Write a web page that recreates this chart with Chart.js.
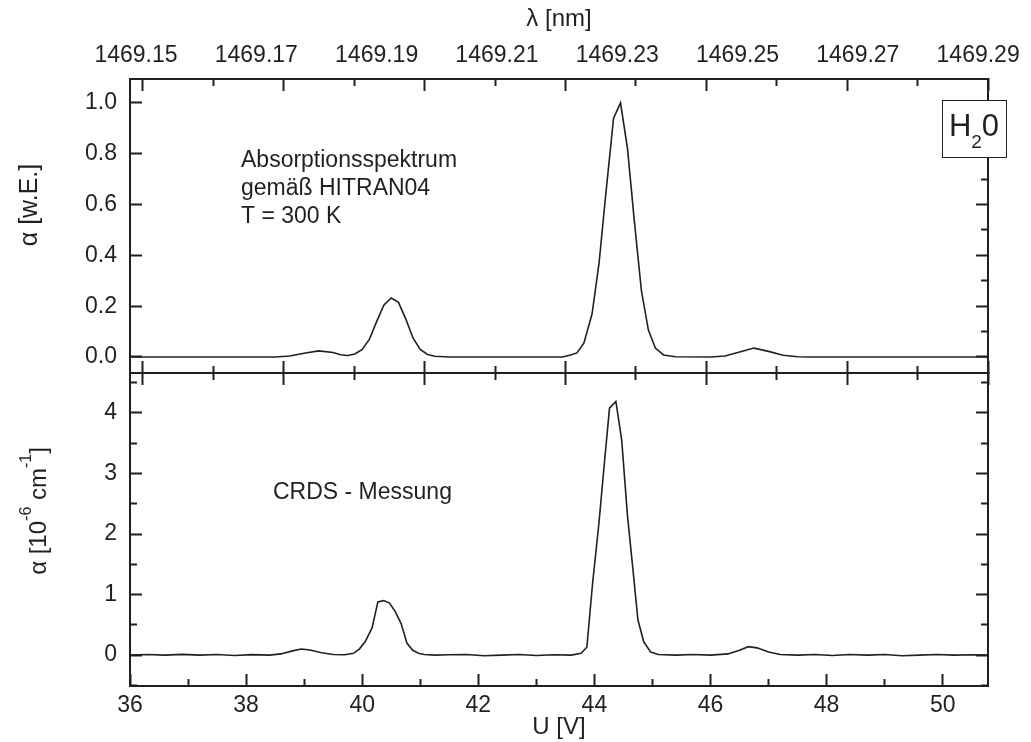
<!DOCTYPE html>
<html>
<head>
<meta charset="utf-8">
<script src="https://cdn.jsdelivr.net/npm/chart.js@4.4.1/dist/chart.umd.min.js"></script>
<style>
html, body { margin: 0; padding: 0; background: #fff; }
#wrap { position: relative; width: 1031px; height: 742px; }
canvas { position: absolute; left: 0; top: 0; }
</style>
</head>
<body>
<div id="wrap">
  <canvas id="bot" width="1031" height="742"></canvas>
  <canvas id="top" width="1031" height="742"></canvas>
</div>
<script>
// HITRAN spectrum (upper panel), x = U [V]
const hitranU = [36.0, 38.5, 38.75, 39.0, 39.25, 39.5, 39.625, 39.75, 39.875, 40.0, 40.125, 40.25, 40.375, 40.5, 40.625, 40.75, 40.875, 41.0, 41.125, 41.25, 41.5,
  43.45, 43.59, 43.70, 43.82, 43.96, 44.08, 44.20, 44.33, 44.45, 44.57, 44.69, 44.81, 44.93, 45.05, 45.19, 45.4,
  46.0, 46.25, 46.5, 46.75, 47.0, 47.25, 47.5, 47.75, 50.78];
const hitranA = [0, 0, 0.004, 0.015, 0.024, 0.018, 0.009, 0.006, 0.012, 0.03, 0.07, 0.14, 0.205, 0.232, 0.215, 0.15, 0.075, 0.03, 0.01, 0.003, 0,
  0, 0.008, 0.016, 0.055, 0.17, 0.37, 0.65, 0.94, 1.0, 0.82, 0.53, 0.26, 0.106, 0.035, 0.008, 0.001,
  0, 0.004, 0.02, 0.035, 0.022, 0.007, 0.001, 0, 0];

// CRDS measurement (lower panel), alpha in 1e-6 cm^-1
const crdsU = [36.0, 36.3, 36.6, 36.9, 37.2, 37.5, 37.8, 38.1, 38.4, 38.6, 38.8, 38.95, 39.1, 39.3, 39.5, 39.7,
  39.85, 39.95, 40.05, 40.17, 40.27, 40.37, 40.47, 40.57, 40.67, 40.77, 40.87, 40.97, 41.07, 41.25, 41.5, 41.8, 42.1, 42.4, 42.7, 43.0, 43.3, 43.6,
  43.77, 43.87, 43.97, 44.08, 44.16, 44.26, 44.37, 44.47, 44.57, 44.66, 44.75, 44.85, 44.97, 45.1, 45.4, 45.7, 46.0,
  46.3, 46.5, 46.65, 46.8, 47.0, 47.2, 47.5, 47.8, 48.1, 48.4, 48.7, 49.0, 49.3, 49.6, 49.9, 50.2, 50.5, 50.78];
const crdsA = [0.0, 0.01, 0.0, 0.012, 0.0, 0.01, -0.005, 0.008, 0.0, 0.02, 0.07, 0.1, 0.085, 0.04, 0.01, 0.005,
  0.03, 0.1, 0.22, 0.45, 0.88, 0.9, 0.86, 0.72, 0.52, 0.2, 0.08, 0.03, 0.01, 0.0, 0.005, 0.01, -0.01, 0.0, 0.01, -0.005, 0.005, 0.0,
  0.03, 0.13, 1.2, 2.2, 3.05, 4.08, 4.19, 3.55, 2.3, 1.45, 0.58, 0.22, 0.05, 0.01, 0.0, 0.01, 0.0,
  0.02, 0.08, 0.14, 0.12, 0.05, 0.01, 0.0, 0.01, -0.005, 0.01, 0.0, 0.01, -0.01, 0.0, 0.01, 0.0, 0.005, 0.0];

// upper wavelength axis labels
const lambdaLabels = ['1469.15', '1469.17', '1469.19', '1469.21', '1469.23', '1469.25', '1469.27', '1469.29'];

const U_MIN = 36, U_MAX = 50.78;
const TOP_MIN = -0.063, TOP_MAX = 1.094;
const BOT_MIN = -0.51, BOT_MAX = 4.66;

const FONT = "'Liberation Sans', Arial, Helvetica, sans-serif";
const INK = '#231f20';
Chart.defaults.font.family = FONT;
Chart.defaults.color = INK;

//inward pointing ticks, minor ones are cut short with a dash
function inGrid(pos, isMajor) {
    const fromBorder = pos === 'bottom' || pos === 'right';
    return {
        display: true,
        drawOnChartArea: false,
        drawTicks: true,
        tickLength: -12,
        tickWidth: 2,
        tickColor: INK,
        tickBorderDash: (c) => isMajor(c.tick.value) ? [] : [8, 5],
        tickBorderDashOffset: (c) => (isMajor(c.tick.value) || fromBorder) ? 0 : 8
    };
}
const border = { display: true, color: INK, width: 2 };
const evenInt = (v) => Math.abs(v / 2 - Math.round(v / 2)) < 1e-6;
const topMajor = (v) => Math.abs(v * 5 - Math.round(v * 5)) < 1e-6;
const intMajor = (v) => Math.abs(v - Math.round(v)) < 1e-6;

function lambdaTicks(pos) {
    return {
        type: 'linear', position: pos, min: -0.1844, max: 12,
        ticks: { display: false, stepSize: 1, includeBounds: false, maxTicksLimit: 100, autoSkip: false },
        grid: inGrid(pos, evenInt), border: border,
        afterFit: (s) => { s.height = 0; }
    };
}
function rightAxis(min, max, step, major) {
    return {
        type: 'linear', position: 'right', min: min, max: max,
        ticks: { display: false, stepSize: step, includeBounds: false, maxTicksLimit: 100 },
        grid: inGrid('right', major), border: border,
        afterFit: (s) => { s.width = 1031 - 988; }
    };
}

function drawRich(ctx, parts, x, y, rot) {
    ctx.save();
    ctx.translate(x, y);
    if (rot) ctx.rotate(rot);
    ctx.fillStyle = INK;
    ctx.textBaseline = 'alphabetic';
    ctx.textAlign = 'left';
    let total = 0;
    parts.forEach((p) => {
        ctx.font = p.size + 'px ' + FONT;
        p.w = ctx.measureText(p.text).width;
        total += p.w;
    });
    let cx = -total / 2;
    parts.forEach((p) => {
        ctx.font = p.size + 'px ' + FONT;
        ctx.fillText(p.text, cx, p.dy || 0);
        cx += p.w;
    });
    ctx.restore();
}

const notesTop = {
    id: 'notesTop',
    afterDraw(chart) {
        const ctx = chart.ctx;
        ctx.save();
        ctx.fillStyle = INK;
        ctx.font = '23px ' + FONT;
        ctx.textAlign = 'left';
        ctx.fillText('Absorptionsspektrum', 241, 167);
        ctx.fillText('gemäß HITRAN04', 241, 195);
        ctx.fillText('T = 300 K', 241, 223);
        // H2O box
        ctx.fillStyle = '#fff';
        ctx.fillRect(942, 100, 64, 57);
        ctx.strokeStyle = INK;
        ctx.lineWidth = 1;
        ctx.strokeRect(942.5, 100.5, 64, 57);
        ctx.restore();
        drawRich(ctx, [{ text: 'H', size: 31 }, { text: '2', size: 19, dy: 12 }, { text: '0', size: 31 }], 974, 136, 0);
        drawRich(ctx, [{ text: 'α [w.E.]', size: 25 }], 37, 205, -Math.PI / 2);
    }
};
const notesBot = {
    id: 'notesBot',
    afterDraw(chart) {
        const ctx = chart.ctx;
        ctx.save();
        ctx.fillStyle = INK;
        ctx.font = '23px ' + FONT;
        ctx.textAlign = 'left';
        ctx.fillText('CRDS - Messung', 273, 499);
        ctx.restore();
        drawRich(ctx, [
            { text: 'α [10', size: 24 },
            { text: '-6', size: 16, dy: -15 },
            { text: ' cm', size: 24 },
            { text: '-1', size: 16, dy: -15 },
            { text: ']', size: 24 }
        ], 46, 511, -Math.PI / 2);
    }
};

const lineStyle = { borderColor: INK, borderWidth: 1.6, pointRadius: 0, tension: 0, fill: false };

new Chart(document.getElementById('top'), {
    type: 'line',
    data: {
        datasets: [Object.assign({
            label: 'HITRAN04',
            data: hitranU.map((u, i) => ({ x: u, y: hitranA[i] }))
        }, lineStyle)]
    },
    options: {
        responsive: false,
        animation: false,
        events: [],
        layout: { padding: { left: 0, right: 0, top: 0, bottom: 742 - 373 } },
        plugins: { legend: { display: false }, tooltip: { enabled: false } },
        scales: {
            x: { type: 'linear', position: 'bottom', min: U_MIN, max: U_MAX, display: false },
            y: {
                type: 'linear', position: 'left', min: TOP_MIN, max: TOP_MAX,
                ticks: {
                    stepSize: 0.1, includeBounds: false, maxTicksLimit: 100, padding: 25,
                    font: { size: 23 }, color: INK,
                    callback: (v) => topMajor(v) ? v.toFixed(1) : ''
                },
                grid: inGrid('left', topMajor), border: border,
                afterFit: (s) => { s.width = 130; }
            },
            yr: rightAxis(TOP_MIN, TOP_MAX, 0.1, topMajor),
            tt: lambdaTicks('top'),
            lt: {
                type: 'linear', position: 'top', min: -0.0499, max: 7.082, weight: 5,
                ticks: {
                    stepSize: 1, includeBounds: false, autoSkip: false, maxRotation: 0, padding: 10,
                    font: { size: 23 }, color: INK,
                    callback: (v) => lambdaLabels[Math.round(v)] || ''
                },
                grid: { display: false, drawTicks: false },
                border: { display: false },
                title: { display: true, text: 'λ [nm]', font: { size: 24 }, color: INK, padding: { top: 5, bottom: 0 } },
                afterFit: (s) => { s.height = 79; }
            },
            tb: lambdaTicks('bottom')
        }
    },
    plugins: [notesTop]
});

new Chart(document.getElementById('bot'), {
    type: 'line',
    data: {
        datasets: [Object.assign({
            label: 'CRDS',
            data: crdsU.map((u, i) => ({ x: u, y: crdsA[i] }))
        }, lineStyle)]
    },
    options: {
        responsive: false,
        animation: false,
        events: [],
        layout: { padding: { left: 0, right: 0, top: 373, bottom: 0 } },
        plugins: { legend: { display: false }, tooltip: { enabled: false } },
        scales: {
            x: {
                type: 'linear', position: 'bottom', min: U_MIN, max: U_MAX,
                ticks: {
                    stepSize: 1, includeBounds: false, autoSkip: false, maxRotation: 0, maxTicksLimit: 100, padding: 18,
                    font: { size: 23 }, color: INK,
                    callback: (v) => evenInt(v) ? String(Math.round(v)) : ''
                },
                grid: inGrid('bottom', evenInt), border: border,
                title: { display: true, text: 'U [V]', font: { size: 24 }, color: INK, padding: { top: 0, bottom: 0 } },
                afterFit: (s) => { s.height = 742 - 686; }
            },
            y: {
                type: 'linear', position: 'left', min: BOT_MIN, max: BOT_MAX,
                ticks: {
                    stepSize: 0.5, includeBounds: false, maxTicksLimit: 100, padding: 25,
                    font: { size: 23 }, color: INK,
                    callback: (v) => intMajor(v) ? String(Math.round(v)) : ''
                },
                grid: inGrid('left', intMajor), border: border,
                afterFit: (s) => { s.width = 130; }
            },
            yr: rightAxis(BOT_MIN, BOT_MAX, 0.5, intMajor),
            tt: lambdaTicks('top')
        }
    },
    plugins: [notesBot]
});
</script>
</body>
</html>
